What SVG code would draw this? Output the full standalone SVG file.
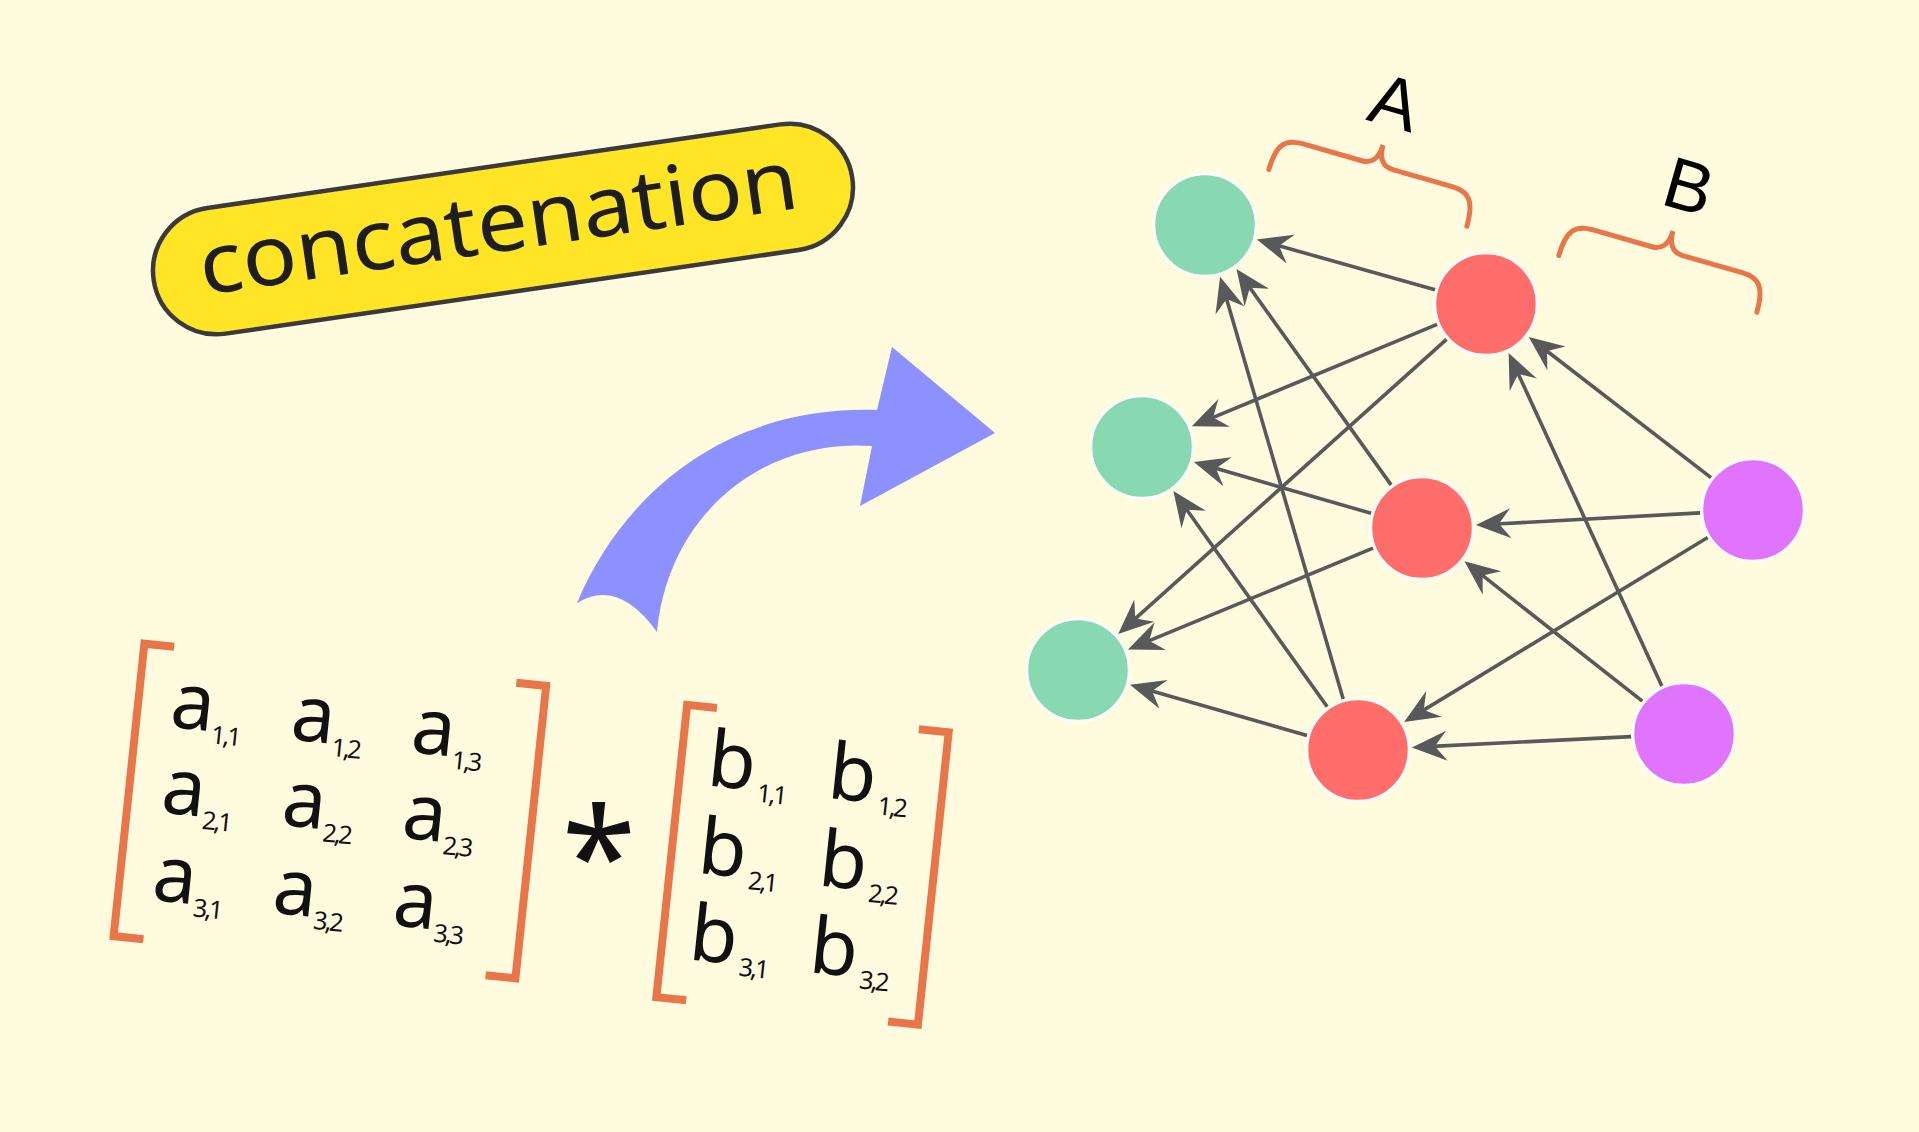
<svg xmlns="http://www.w3.org/2000/svg" width="1919" height="1132" viewBox="0 0 1919 1132">
<defs>
<style>
.m{font-family:"Noto Sans","Open Sans",sans-serif;font-size:78px;fill:#111}
.s{font-size:25px;letter-spacing:-2.5px}
.br{fill:none;stroke:#E8764A;stroke-width:8}
.brace{fill:none;stroke:#E8764A;stroke-width:5;stroke-linecap:round}
.edge{stroke:#58595B;stroke-width:3.6;fill:none;marker-end:url(#ah)}
.node{stroke:#fff;stroke-width:2.5}
.g{fill:#88D9B1}.r{fill:#FF6E6A}.p{fill:#E074FC}
.lbl{font-family:"Liberation Sans","Noto Sans",sans-serif;font-size:72px;fill:#000}
</style>
<marker id="ah" markerUnits="userSpaceOnUse" markerWidth="40" markerHeight="30" refX="0" refY="0" orient="auto" overflow="visible">
<path d="M20,0 L-15,-15 L-3,0 L-15,15 Z" fill="#58595B"/>
</marker>
</defs>
<rect width="1919" height="1132" fill="#FFFBDF"/>

<g id="concatenation" transform="rotate(-8.3 503 229)">
<rect x="150" y="165.5" width="706" height="127" rx="63.5" fill="#FFE526" stroke="#3A3A3A" stroke-width="4.5"/>
<text x="499" y="251" text-anchor="middle" font-family="Noto Sans, Open Sans, sans-serif" font-size="84" fill="#1E1E1E" textLength="604" lengthAdjust="spacingAndGlyphs">concatenation</text>
</g>

<g id="big-arrow">
<path d="M577,603 C620,500 720,405 877,410 L892,347 L995,433 L860,506 L872,446 C762,438 668,515 657,632 Q618,578 577,603 Z" fill="#8C91FF"/>
</g>

<g id="matrix-A" transform="rotate(6 330 810)">
<path class="br" d="M158,664 L128,664 L128,958 L158,958"/>
<path class="br" d="M502,664 L532,664 L532,958 L502,958"/>
<text class="m" x="161" y="744">a<tspan class="s" x="204" dy="12">1,1</tspan></text>
<text class="m" x="282" y="744">a<tspan class="s" x="325" dy="12">1,2</tspan></text>
<text class="m" x="403" y="744">a<tspan class="s" x="446" dy="12">1,3</tspan></text>
<text class="m" x="161" y="830">a<tspan class="s" x="204" dy="12">2,1</tspan></text>
<text class="m" x="282" y="830">a<tspan class="s" x="325" dy="12">2,2</tspan></text>
<text class="m" x="403" y="830">a<tspan class="s" x="446" dy="12">2,3</tspan></text>
<text class="m" x="161" y="918">a<tspan class="s" x="204" dy="12">3,1</tspan></text>
<text class="m" x="282" y="918">a<tspan class="s" x="325" dy="12">3,2</tspan></text>
<text class="m" x="403" y="918">a<tspan class="s" x="446" dy="12">3,3</tspan></text>
</g>

<g id="star">
<text x="599" y="905" text-anchor="middle" font-family="Noto Sans, sans-serif" font-size="135" fill="#111">*</text>
</g>

<g id="matrix-B" transform="rotate(6 805 865)">
<path class="br" d="M701,718 L671,718 L671,1012 L701,1012"/>
<path class="br" d="M904,718 L934,718 L934,1012 L904,1012"/>
<text class="m" x="698" y="796">b<tspan class="s" x="750" dy="11">1,1</tspan></text>
<text class="m" x="819" y="796">b<tspan class="s" x="871" dy="11">1,2</tspan></text>
<text class="m" x="698" y="884">b<tspan class="s" x="750" dy="11">2,1</tspan></text>
<text class="m" x="819" y="884">b<tspan class="s" x="871" dy="11">2,2</tspan></text>
<text class="m" x="698" y="971">b<tspan class="s" x="750" dy="11">3,1</tspan></text>
<text class="m" x="819" y="971">b<tspan class="s" x="871" dy="11">3,2</tspan></text>
</g>

<g id="connectors">
<line class="edge" x1="1435.0" y1="289.7" x2="1276.2" y2="245.0"/>
<line class="edge" x1="1437.1" y1="324.3" x2="1210.3" y2="418.6"/>
<line class="edge" x1="1446.5" y1="339.4" x2="1133.1" y2="620.6"/>
<line class="edge" x1="1391.1" y1="484.9" x2="1248.1" y2="285.2"/>
<line class="edge" x1="1371.1" y1="513.3" x2="1213.1" y2="467.6"/>
<line class="edge" x1="1373.0" y1="548.2" x2="1146.4" y2="641.8"/>
<line class="edge" x1="1343.2" y1="699.1" x2="1225.7" y2="296.0"/>
<line class="edge" x1="1327.2" y1="706.8" x2="1185.0" y2="507.3"/>
<line class="edge" x1="1307.0" y1="735.4" x2="1149.2" y2="690.3"/>
<line class="edge" x1="1711.0" y1="477.6" x2="1544.6" y2="349.2"/>
<line class="edge" x1="1700.1" y1="512.9" x2="1495.9" y2="524.0"/>
<line class="edge" x1="1707.7" y1="537.5" x2="1421.2" y2="711.6"/>
<line class="edge" x1="1661.8" y1="685.9" x2="1517.0" y2="371.2"/>
<line class="edge" x1="1642.3" y1="701.2" x2="1480.2" y2="573.7"/>
<line class="edge" x1="1631.1" y1="736.6" x2="1431.9" y2="746.4"/>
</g>

<g id="node-g1"><circle class="node g" cx="1205" cy="225" r="51"/></g>
<g id="node-g2"><circle class="node g" cx="1142" cy="447" r="51"/></g>
<g id="node-g3"><circle class="node g" cx="1078" cy="670" r="51"/></g>
<g id="node-r1"><circle class="node r" cx="1486" cy="304" r="51"/></g>
<g id="node-r2"><circle class="node r" cx="1422" cy="528" r="51"/></g>
<g id="node-r3"><circle class="node r" cx="1358" cy="750" r="51"/></g>
<g id="node-p1"><circle class="node p" cx="1753" cy="510" r="51"/></g>
<g id="node-p2"><circle class="node p" cx="1684" cy="734" r="51"/></g>

<g id="brace-A" transform="translate(1383 145) rotate(16)">
<path class="brace" d="M-103,55 C-103,28 -95,21 -78,21 L-16,21 C-6,21 0,14 0,0 C0,14 6,21 16,21 L78,21 C95,21 103,28 103,55"/>
</g>
<g id="brace-B" transform="translate(1673 231) rotate(16)">
<path class="brace" d="M-103,55 C-103,28 -95,21 -78,21 L-16,21 C-6,21 0,14 0,0 C0,14 6,21 16,21 L78,21 C95,21 103,28 103,55"/>
</g>
<g id="label-A"><text class="lbl" x="1395" y="127" text-anchor="middle" transform="rotate(16 1395 102)">A</text></g>
<g id="label-B"><text class="lbl" x="1689" y="211" text-anchor="middle" transform="rotate(16 1689 186)">B</text></g>
</svg>
